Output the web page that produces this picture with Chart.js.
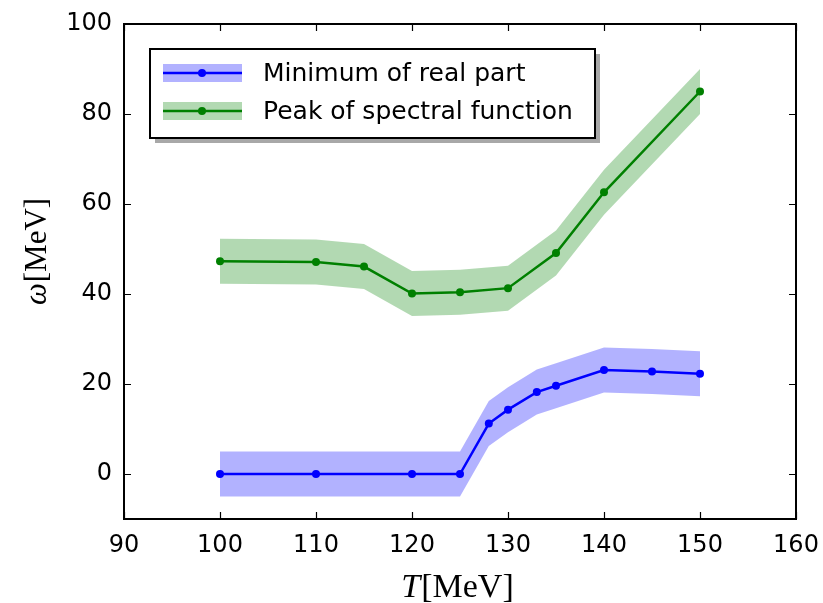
<!DOCTYPE html>
<html>
<head>
<meta charset="utf-8">
<script src="https://cdn.jsdelivr.net/npm/chart.js@4.4.1/dist/chart.umd.min.js"></script>
<style>
  html, body { margin: 0; padding: 0; background: #fff; }
  #wrap { width: 823px; height: 603px; }
</style>
</head>
<body>
<div id="wrap"><canvas id="omegaChart" width="823" height="603"></canvas></div>
<script>
// minimum of the real part, with its uncertainty band
const minT    = [100, 110, 120, 125, 128, 130, 133, 135, 140, 145, 150];
const minW    = [0, 0, 0, 0, 11.2, 14.3, 18.2, 19.6, 23.1, 22.8, 22.3];
const minLow  = [-5, -5, -5, -5, 6.2, 9.3, 13.2, 14.6, 18.1, 17.8, 17.3];
const minHigh = [5, 5, 5, 5, 16.2, 19.3, 23.2, 24.6, 28.1, 27.8, 27.3];

// peak of the spectral function, with its band
const peakT    = [100, 110, 115, 120, 125, 130, 135, 140, 150];
const peakW    = [47.3, 47.1, 46.1, 40.1, 40.4, 41.3, 49.1, 62.6, 85.0];
const peakLow  = [42.3, 42.1, 41.1, 35.1, 35.4, 36.3, 44.1, 57.6, 80.0];
const peakHigh = [52.3, 52.1, 51.1, 45.1, 45.4, 46.3, 54.1, 67.6, 90.0];

const xTicks = [90, 100, 110, 120, 130, 140, 150, 160];
const yTicks = [0, 20, 40, 60, 80, 100];
const legendLabels = ['Minimum of real part', 'Peak of spectral function'];

const BLUE = '#0000ff', BLUE_BAND = 'rgba(0, 0, 255, 0.3)';
const GREEN = '#008000', GREEN_BAND = 'rgba(0, 128, 0, 0.3)';

function pts(xs, ys) {
  return xs.map((x, i) => ({ x: x, y: ys[i] }));
}

function lineSet(label, xs, ys, color) {
  return {
    label: label,
    data: pts(xs, ys),
    borderColor: color,
    backgroundColor: color,
    borderWidth: 2.5,
    pointRadius: 4,
    pointBorderWidth: 0,
    fill: false,
    tension: 0
  };
}

function edgeSet(xs, ys, fill, color) {
  return {
    data: pts(xs, ys),
    borderWidth: 0,
    borderColor: 'rgba(0,0,0,0)',
    backgroundColor: color,
    pointRadius: 0,
    fill: fill,
    tension: 0
  };
}

// frame with inward ticks on all four sides
const frameTicks = {
  id: 'frameTicks',
  afterDatasetsDraw(chart) {
    const { ctx, chartArea: { left, right, top, bottom }, scales: { x, y } } = chart;
    ctx.save();
    ctx.strokeStyle = '#000';
    ctx.lineWidth = 1.2;
    ctx.beginPath();
    xTicks.forEach(v => {
      const px = Math.round(x.getPixelForValue(v)) + 0.5;
      ctx.moveTo(px, bottom); ctx.lineTo(px, bottom - 7);
      ctx.moveTo(px, top); ctx.lineTo(px, top + 7);
    });
    yTicks.forEach(v => {
      const py = Math.round(y.getPixelForValue(v)) + 0.5;
      ctx.moveTo(left, py); ctx.lineTo(left + 7, py);
      ctx.moveTo(right, py); ctx.lineTo(right - 7, py);
    });
    ctx.stroke();
    ctx.lineWidth = 2;
    ctx.strokeRect(left, top, right - left, bottom - top);
    ctx.restore();
  }
};

// legend box with shadow and band+line handles
const bandLegend = {
  id: 'bandLegend',
  afterDraw(chart) {
    const ctx = chart.ctx;
    const bx = 150, by = 49, bw = 445, bh = 89;
    ctx.save();
    ctx.fillStyle = '#a8a8a8';
    ctx.fillRect(bx + 5, by + 5, bw, bh);
    ctx.fillStyle = '#fff';
    ctx.fillRect(bx, by, bw, bh);
    ctx.strokeStyle = '#000';
    ctx.lineWidth = 2;
    ctx.strokeRect(bx, by, bw, bh);

    const rows = [
      { y: 73, line: BLUE, band: BLUE_BAND },
      { y: 111, line: GREEN, band: GREEN_BAND }
    ];
    ctx.font = '25px "DejaVu Sans"';
    ctx.textBaseline = 'alphabetic';
    rows.forEach((r, i) => {
      ctx.fillStyle = r.band;
      ctx.fillRect(163, r.y - 9, 79, 18);
      ctx.strokeStyle = r.line;
      ctx.lineWidth = 2.5;
      ctx.beginPath();
      ctx.moveTo(163, r.y);
      ctx.lineTo(242, r.y);
      ctx.stroke();
      ctx.fillStyle = r.line;
      ctx.beginPath();
      ctx.arc(202, r.y, 4, 0, Math.PI * 2);
      ctx.fill();
      ctx.fillStyle = '#000';
      ctx.fillText(legendLabels[i], 263, r.y + 8);
    });
    ctx.restore();
  }
};

// axis titles: italic symbol followed by upright unit
const axisTitles = {
  id: 'axisTitles',
  afterDraw(chart) {
    const { ctx, chartArea: { left, right } } = chart;
    ctx.save();
    ctx.fillStyle = '#000';
    ctx.textBaseline = 'alphabetic';
    ctx.textAlign = 'left';

    const xs = 'italic 34px "Liberation Serif"', xu = '34px "Liberation Serif"';
    ctx.font = xs; const wT = ctx.measureText('T').width;
    ctx.font = xu; const wU = ctx.measureText('[MeV]').width;
    const sx = (left + right) / 2 - 3 - (wT + wU) / 2;
    ctx.font = xs; ctx.fillText('T', sx, 597);
    ctx.font = xu; ctx.fillText('[MeV]', sx + wT + 1, 597);

    const ys = 'italic 31px "Liberation Serif"', yu = '31px "Liberation Serif"';
    ctx.font = ys; const wO = ctx.measureText('ω').width;
    ctx.font = yu; const wM = ctx.measureText('[MeV]').width;
    ctx.translate(46, 252);
    ctx.rotate(-Math.PI / 2);
    const sy = -(wO + wM) / 2;
    ctx.font = ys; ctx.fillText('ω', sy, 0);
    ctx.font = yu; ctx.fillText('[MeV]', sy + wO + 1, 0);
    ctx.restore();
  }
};

new Chart(document.getElementById('omegaChart'), {
  type: 'line',
  data: {
    datasets: [
      lineSet(legendLabels[0], minT, minW, BLUE),
      lineSet(legendLabels[1], peakT, peakW, GREEN),
      edgeSet(minT, minLow, false, BLUE_BAND),
      edgeSet(minT, minHigh, 2, BLUE_BAND),
      edgeSet(peakT, peakLow, false, GREEN_BAND),
      edgeSet(peakT, peakHigh, 4, GREEN_BAND)
    ]
  },
  options: {
    responsive: false,
    animation: false,
    layout: { padding: { top: 24, right: 27, left: 0, bottom: 0 } },
    plugins: {
      legend: { display: false },
      tooltip: { enabled: false }
    },
    scales: {
      x: {
        type: 'linear',
        min: 90,
        max: 160,
        grid: { display: false, drawTicks: false },
        border: { display: false },
        afterBuildTicks(scale) { scale.ticks = xTicks.map(v => ({ value: v })); },
        afterFit(scale) {
          scale.height = 84;
          scale.paddingLeft = 0;
          scale.paddingRight = 0;
        },
        ticks: {
          padding: 12,
          color: '#000',
          maxRotation: 0,
          font: { family: '"DejaVu Sans"', size: 24 }
        }
      },
      y: {
        type: 'linear',
        min: -10,
        max: 100,
        grid: { display: false, drawTicks: false },
        border: { display: false },
        afterBuildTicks(scale) { scale.ticks = yTicks.map(v => ({ value: v })); },
        afterFit(scale) {
          scale.width = 124;
          scale.paddingTop = 0;
          scale.paddingBottom = 0;
        },
        ticks: {
          padding: 12,
          color: '#000',
          font: { family: '"DejaVu Sans"', size: 24 }
        }
      }
    }
  },
  plugins: [frameTicks, bandLegend, axisTitles]
});
</script>
</body>
</html>
